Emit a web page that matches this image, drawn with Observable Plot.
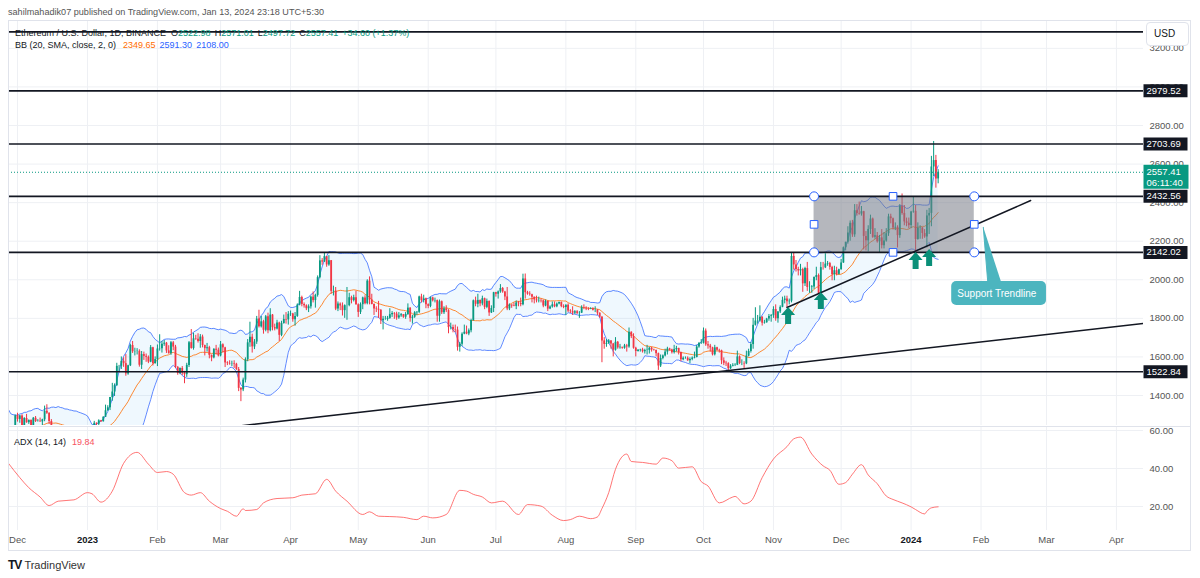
<!DOCTYPE html>
<html><head><meta charset="utf-8">
<script src="https://cdn.jsdelivr.net/npm/d3@7"></script>
<script src="https://cdn.jsdelivr.net/npm/@observablehq/plot@0.6"></script>
<style>
html,body{margin:0;padding:0;background:#fff;}
body{width:1200px;height:578px;position:relative;overflow:hidden;font-family:"Liberation Sans",Arial,sans-serif;}
.abs{position:absolute;white-space:nowrap;line-height:12px;}
.row{display:flex;gap:4px;font-size:9px;}
.g{color:#089981}.k{color:#131722}
</style></head><body>
<div id="main" class="abs" style="left:0;top:20px"></div>
<div id="adx" class="abs" style="left:0;top:426px"></div>
<div class="abs" style="left:8px;top:20px;width:1183px;height:531px;border:1px solid #e0e3eb;box-sizing:border-box;pointer-events:none"></div>
<div class="abs" style="left:8px;top:426px;width:1183px;height:1px;background:#e0e3eb"></div>
<div class="abs" style="left:8px;top:6px;font-size:9.1px;color:#555">sahilmahadik07 published on TradingView.com, Jan 13, 2024 23:18 UTC+5:30</div>
<div class="abs row" style="left:15px;top:27px">
  <span class="k" style="margin-right:1px">Ethereum / U.S. Dollar, 1D, BINANCE</span>
  <span><span class="k">O</span><span class="g">2522.98</span></span>
  <span><span class="k">H</span><span class="g">2571.01</span></span>
  <span><span class="k">L</span><span class="g">2497.72</span></span>
  <span><span class="k">C</span><span class="g">2557.41</span></span>
  <span class="g">+34.60 (+1.37%)</span>
</div>
<div class="abs row" style="left:15px;top:39px">
  <span class="k" style="margin-right:3px">BB (20, SMA, close, 2, 0)</span>
  <span style="color:#ff6d00">2349.65</span>
  <span style="color:#2962ff">2591.30</span>
  <span style="color:#2962ff">2108.00</span>
</div>
<div class="abs row" style="left:14px;top:436px">
  <span class="k" style="margin-right:2px">ADX (14, 14)</span>
  <span style="color:#f7525f">19.84</span>
</div>
<div class="abs" style="left:1146px;top:22px;width:43px;height:24px;box-sizing:border-box;border:1px solid #e0e3eb;border-radius:4px;background:#fff;font-size:10px;color:#131722;padding:5px 0 0 7px">USD</div>
<div class="abs" style="left:8px;top:559px;font-size:11px;color:#333"><span style="font-weight:900;font-size:12px;letter-spacing:-1px;color:#131722">TV</span>&nbsp;TradingView</div>
<script>
// ---------------- data ----------------
const startDate = "2022-11-04";
const firstOpen = 1531;
const closes = [
1645,1627,1572,1568,1334,1100,1299,1287,1256,1219,1241,1253,1215,1201,1212,1218,1141,1108,1135,1183,1203,1199,1206,1195,1169,1217,1295,
1276,1294,1241,1281,1259,1271,1232,1282,1265,1266,1263,1274,1318,1308,1265,1167,1186,1187,1167,1218,1212,1219,1218,1221,1218,1226,1212,1190,1201,1199,1196,
1200,1214,1214,1256,1251,1269,1264,1287,1321,1336,1389,1418,1451,1551,1552,1577,1565,1512,1554,1659,1627,1628,1629,1557,1612,1603,1598,1573,1648,1566,1586,
1641,1642,1666,1671,1631,1618,1673,1651,1546,1514,1540,1516,1508,1556,1674,1644,1694,1692,1680,1703,1659,1643,1648,1608,1595,1640,1635,1605,
1663,1647,1569,1566,1564,1565,1562,1535,1437,1429,1480,1586,1673,1702,1652,1677,1796,1756,1782,1738,1808,1736,1817,1752,1745,1776,1712,1773,1794,1792,1821,
1823,1793,1810,1869,1908,1872,1865,1850,1860,1910,1892,1919,2011,2098,2092,2120,2077,2099,1940,1941,1848,1874,1864,1840,1866,1866,1907,1892,1907,1870,
1831,1871,1906,1876,1993,1895,1872,1849,1847,1842,1788,1795,1795,1800,1819,1825,1822,1802,1813,1819,1806,1820,1853,1800,1806,1829,1831,1911,1892,1901,1871,
1862,1906,1891,1892,1811,1886,1829,1849,1840,1752,1753,1741,1739,1650,1666,1718,1728,1719,1736,1789,1891,1873,1893,1875,1902,1857,1888,1828,1851,1933,
1925,1937,1955,1937,1911,1849,1869,1864,1862,1880,1877,1871,2004,1933,1926,1923,1910,1896,1891,1893,1891,1864,1888,1848,1859,1870,1860,1874,1882,1861,1856,
1868,1838,1835,1827,1834,1826,1827,1855,1853,1849,1848,1850,1842,1842,1827,1806,1683,1665,1670,1683,1667,1635,1676,1647,1650,1645,1657,1652,1728,1705,1645,
1628,1634,1636,1627,1633,1634,1645,1636,1634,1617,1553,1592,1605,1625,1641,1636,1622,1638,1644,1623,1585,1593,1593,1580,1587,1594,1597,1651,1669,1671,
1734,1663,1656,1647,1611,1647,1634,1632,1580,1567,1565,1539,1552,1556,1557,1600,1566,1566,1564,1604,1628,1664,1764,1786,1786,1806,1775,1777,1796,1810,1814,
1846,1798,1833,1857,1893,1900,1886,1889,2121,2077,2053,2046,2053,1979,2058,1960,1960,1963,2012,2022,1930,2063,2062,2081,2084,2064,2027,2047,2028,2052,
2087,2166,2194,2242,2293,2233,2358,2344,2341,2353,2225,2202,2261,2315,2220,2228,2197,2217,2177,2201,2239,2326,2317,2268,2272,2229,2380,2344,2300,2293,2281,
2352,2355,2209,2268,2269,2240,2222,2331,2344,2585,2618,2522.98,2557.41];
const highs = [
1680,1660,1636,1600,1608,1340,1340,1310,1293,1269,1293,1285,1270,1228,1232,1230,1226,1156,1139,1187,1218,1205,1230,1223,1198,1230,1298,
1308,1297,1300,1285,1302,1273,1272,1286,1291,1275,1283,1277,1345,1352,1310,1275,1190,1198,1195,1222,1220,1222,1228,1224,1226,1228,1236,1213,1206,1202,1207,
1203,1220,1219,1266,1258,1274,1271,1290,1350,1347,1390,1463,1460,1567,1556,1600,1595,1612,1557,1666,1680,1645,1643,1637,1628,1625,1615,1605,1659,1650,1600,
1662,1715,1680,1685,1675,1658,1680,1680,1660,1550,1543,1550,1525,1567,1680,1742,1723,1712,1720,1716,1713,1661,1670,1655,1610,1642,1660,1646,
1680,1668,1650,1575,1580,1578,1580,1567,1545,1440,1490,1595,1690,1780,1718,1690,1810,1842,1810,1790,1815,1827,1850,1820,1770,1790,1780,1785,1817,1830,1835,
1838,1826,1830,1875,1940,1915,1880,1870,1870,1915,1937,1925,2020,2125,2110,2140,2120,2125,2100,1967,1960,1885,1880,1880,1870,1960,1930,1915,1920,1940,
1875,1880,1910,1917,2000,2015,1925,1875,1860,1888,1845,1810,1810,1810,1850,1835,1830,1832,1830,1825,1820,1830,1875,1855,1815,1835,1835,1915,1925,1920,1905,
1875,1910,1910,1905,1895,1895,1890,1860,1865,1845,1775,1765,1765,1755,1675,1725,1765,1760,1745,1795,1895,1910,1925,1895,1915,1905,1900,1890,1865,1935,
1935,1942,1975,1960,1940,1960,1875,1870,1880,1890,1887,1905,2029,2030,1940,1938,1925,1910,1915,1910,1900,1895,1895,1890,1865,1885,1885,1880,1885,1885,1870,
1870,1875,1845,1860,1840,1840,1835,1865,1870,1860,1855,1855,1855,1860,1845,1828,1810,1700,1690,1690,1685,1670,1700,1680,1665,1650,1665,1665,1750,1730,1720,
1650,1638,1640,1645,1640,1660,1650,1650,1640,1635,1620,1610,1610,1640,1650,1645,1640,1660,1655,1645,1625,1600,1600,1600,1595,1600,1625,1660,1675,1690,
1750,1745,1680,1665,1650,1660,1650,1640,1635,1595,1577,1570,1560,1565,1565,1630,1605,1585,1575,1630,1640,1675,1800,1855,1815,1865,1808,1790,1800,1820,1820,
1860,1870,1835,1865,1910,1915,1915,1900,2136,2140,2100,2065,2080,2060,2065,2090,1990,1970,2015,2065,2030,2090,2090,2135,2095,2090,2070,2070,2065,2055,
2105,2170,2195,2275,2305,2308,2390,2390,2403,2380,2355,2250,2280,2335,2320,2265,2245,2230,2260,2245,2265,2340,2340,2320,2295,2280,2390,2445,2385,2320,2320,
2355,2430,2385,2295,2280,2270,2260,2360,2370,2640,2717,2645,2571.01];
const lows = [
1525,1617,1568,1549,1207,1073,1085,1208,1240,1205,1165,1232,1196,1186,1193,1207,1130,1073,1081,1124,1180,1174,1196,1193,1150,1162,1215,
1262,1256,1238,1238,1256,1250,1221,1225,1260,1262,1263,1241,1264,1302,1250,1160,1158,1175,1150,1162,1201,1190,1209,1215,1205,1212,1205,1180,1187,1180,1193,
1192,1197,1205,1212,1241,1235,1260,1262,1286,1318,1322,1370,1395,1447,1519,1535,1546,1500,1505,1550,1618,1605,1610,1547,1535,1582,1572,1565,1570,1553,1562,
1550,1630,1620,1655,1618,1614,1608,1632,1540,1505,1508,1504,1461,1494,1545,1640,1635,1686,1672,1645,1647,1605,1625,1590,1575,1590,1610,1600,
1600,1620,1545,1555,1557,1550,1540,1530,1420,1368,1420,1465,1575,1650,1620,1638,1665,1750,1750,1718,1730,1720,1730,1735,1735,1740,1680,1705,1770,1770,1765,
1810,1780,1760,1805,1865,1860,1853,1840,1830,1848,1880,1853,1910,2005,2075,2090,2065,2070,1925,1916,1840,1835,1840,1812,1800,1790,1860,1875,1885,1868,
1805,1820,1845,1870,1870,1870,1870,1815,1830,1800,1768,1740,1790,1785,1795,1805,1795,1790,1795,1805,1800,1795,1815,1780,1770,1800,1815,1825,1880,1880,1850,
1850,1855,1885,1880,1780,1780,1820,1820,1830,1720,1740,1725,1725,1630,1625,1655,1715,1715,1710,1725,1785,1860,1855,1860,1865,1845,1850,1810,1825,1830,
1910,1900,1930,1930,1892,1840,1840,1852,1860,1845,1860,1860,1865,1900,1920,1915,1880,1875,1880,1880,1880,1855,1860,1835,1845,1853,1855,1855,1870,1855,1850,
1815,1830,1825,1815,1820,1820,1800,1825,1845,1840,1840,1845,1838,1830,1815,1800,1570,1640,1650,1665,1640,1600,1630,1640,1640,1640,1640,1625,1645,1695,1640,
1600,1625,1625,1620,1615,1610,1615,1625,1630,1600,1530,1545,1585,1600,1610,1630,1615,1615,1625,1610,1575,1580,1588,1577,1565,1580,1590,1595,1645,1665,
1667,1655,1640,1625,1605,1605,1630,1620,1560,1555,1550,1521,1535,1548,1550,1555,1560,1555,1540,1560,1600,1620,1640,1760,1770,1780,1760,1770,1775,1785,1780,
1800,1785,1775,1825,1855,1875,1855,1870,1880,2050,2040,2020,2020,1935,1965,1940,1930,1930,1950,1995,1925,1928,2050,2058,2070,2050,1995,1995,2020,2025,
2050,2085,2150,2185,2200,2220,2220,2330,2335,2330,2155,2150,2145,2235,2215,2210,2190,2140,2160,2160,2195,2225,2290,2258,2255,2165,2215,2335,2280,2275,2265,
2265,2345,2100,2205,2210,2210,2215,2165,2235,2275,2535,2475,2497.72];

const adxDates = ["2022-11-27","2022-12-02","2022-12-06","2022-12-11","2022-12-15","2022-12-19","2022-12-26","2023-01-01","2023-01-03","2023-01-07","2023-01-12","2023-01-17","2023-01-23","2023-01-28","2023-02-01","2023-02-05","2023-02-08","2023-02-13","2023-02-16","2023-02-20","2023-02-24","2023-03-01","2023-03-04","2023-03-08","2023-03-11","2023-03-12","2023-03-17","2023-03-20","2023-03-26","2023-04-02","2023-04-06","2023-04-12","2023-04-17","2023-04-21","2023-04-26","2023-05-03","2023-05-06","2023-05-10","2023-05-15","2023-05-21","2023-05-27","2023-05-30","2023-06-03","2023-06-09","2023-06-15","2023-06-18","2023-06-21","2023-06-25","2023-06-29","2023-07-04","2023-07-11","2023-07-15","2023-07-21","2023-07-26","2023-07-31","2023-08-03","2023-08-07","2023-08-12","2023-08-15","2023-08-17","2023-08-20","2023-08-23","2023-08-28","2023-08-30","2023-09-04","2023-09-10","2023-09-13","2023-09-17","2023-09-20","2023-09-26","2023-09-30","2023-10-03","2023-10-08","2023-10-14","2023-10-15","2023-10-19","2023-10-22","2023-10-27","2023-11-01","2023-11-07","2023-11-10","2023-11-13","2023-11-18","2023-11-23","2023-11-26","2023-11-30","2023-12-03","2023-12-06","2023-12-10","2023-12-13","2023-12-17","2023-12-21","2023-12-24","2023-12-28","2024-01-01","2024-01-03","2024-01-07","2024-01-08","2024-01-10","2024-01-13"];
const adxValues = [42.7,35.2,29.9,25.0,20.5,22.8,23.5,27.3,26.7,22.3,28.1,42.7,48.5,42.3,37.9,38.4,37.0,27.3,26.0,27.3,22.8,18.9,17.5,14.9,18.8,17.9,18.4,21.9,24.2,24.6,26.0,26.7,34.3,28.1,22.8,15.8,17.2,14.9,14.7,14.3,13.1,14.9,14.0,15.8,28.5,28.1,26.4,25.0,21.9,22.8,15.8,21.0,20.2,15.4,12.6,13.1,14.9,13.6,14.5,18.9,27.3,39.6,47.6,43.7,43.2,42.3,45.5,44.1,40.2,40.9,33.1,30.8,21.9,25.0,25.3,21.4,22.8,35.2,45.0,51.5,55.6,56.5,47.6,41.4,39.1,31.7,32.6,37.0,42.0,36.6,32.0,25.5,23.7,21.9,19.8,18.4,16.1,17.5,19.3,19.84];

const topLine = [3285.6];
const levels = [2979.52, 2703.69, 2432.56, 2142.02, 1522.84];
const lastPrice = 2557.41;
const countdown = "06:11:40";
const priceTicks = [1400,1600,1800,2000,2200,2400,2600,2800,3000,3200];
const adxTicks = [20,40,60];
const monthTickDates = ["2022-12-01","2023-01-01","2023-02-01","2023-03-01","2023-04-01","2023-05-01","2023-06-01","2023-07-01","2023-08-01","2023-09-01","2023-10-01","2023-11-01","2023-12-01","2024-01-01","2024-02-01","2024-03-01","2024-04-01"];
const monthTickLabels = ["Dec","2023","Feb","Mar","Apr","May","Jun","Jul","Aug","Sep","Oct","Nov","Dec","2024","Feb","Mar","Apr"];
const longTrend = [{date:"2023-02-11", price:1207}, {date:"2024-04-13", price:1773}];
const supportTrend = [{date:"2023-11-07", price:1856}, {date:"2024-02-23", price:2411}];
const boxRange = {x1:"2023-11-19", x2:"2024-01-29", xm:"2023-12-24", y1:2142.02, y2:2432.56};
const arrowPts = [{date:"2023-11-07T12:00Z", price:1815}, {date:"2023-11-22T00:00Z", price:1893}, {date:"2024-01-03T00:00Z", price:2100}, {date:"2024-01-09T00:00Z", price:2116}];
const callout = {x1:"2024-01-19", x2:"2024-03-01", y1:1867, y2:1991, tx:"2024-02-08", ty:1929, text:"Support Trendline",
  pointer:[{date:"2024-02-02", price:2272},{date:"2024-02-04", price:1985},{date:"2024-02-10", price:1985}]};
const xDomain = [new Date("2022-11-27"), new Date("2024-04-13")];

// ---------------- build ----------------
const D = s => new Date(s);
const day = 864e5, t0 = +D(startDate);
const candles = closes.map((c,i)=>({date:new Date(t0+i*day), open: i ? closes[i-1] : firstOpen, high: highs[i], low: lows[i], close: c}));
candles.forEach((d,i)=>{ if(i>=19){ const w=closes.slice(i-19,i+1); const m=d3.mean(w); const sd=Math.sqrt(d3.mean(w,v=>(v-m)**2)); d.basis=m; d.upper=m+2*sd; d.lower=m-2*sd; }});
const bb = candles.filter(d=>d.basis!==undefined);
const up = candles.filter(d=>d.close>=d.open), dn = candles.filter(d=>d.close<d.open);
const UP="#089981", DN="#f23645";
const months = monthTickDates.map(D);
const labelOf = new Map(months.map((d,i)=>[+d, monthTickLabels[i]]));
const yearDates = months.filter(d=>/^\d{4}$/.test(labelOf.get(+d)));
const monthOnly = months.filter(d=>!/^\d{4}$/.test(labelOf.get(+d)));
const adxData = adxDates.map((d,i)=>({date:D(d), v:adxValues[i]}));
const lt = longTrend.map(d=>({date:D(d.date), price:d.price}));
const st = supportTrend.map(d=>({date:D(d.date), price:d.price}));
const bx = {x1:D(boxRange.x1), x2:D(boxRange.x2), xm:D(boxRange.xm), y1:boxRange.y1, y2:boxRange.y2, ym:(boxRange.y1+boxRange.y2)/2};
const corners = [[bx.x1,bx.y1],[bx.x1,bx.y2],[bx.x2,bx.y1],[bx.x2,bx.y2]];
const mids = [[bx.x1,bx.ym],[bx.x2,bx.ym],[bx.xm,bx.y1],[bx.xm,bx.y2]];
const arrows = arrowPts.map(d=>({date:D(d.date), price:d.price}));
const ptr = callout.pointer.map(d=>({date:D(d.date), price:d.price}));

const arrowSym = {draw(ctx){ ctx.moveTo(0,-8.5); ctx.lineTo(7,-0.5); ctx.lineTo(3,-0.5); ctx.lineTo(3,8.5); ctx.lineTo(-3,8.5); ctx.lineTo(-3,-0.5); ctx.lineTo(-7,-0.5); ctx.closePath(); }};
const boxSym = (w,t,b)=>({draw(ctx){ ctx.rect(0,t,w,b-t); }});
const font = "Liberation Sans, Arial, sans-serif";
const GRID = "#eef0f4";

const main = Plot.plot({
  width:1200, height:405, marginLeft:8, marginRight:57, marginTop:0, marginBottom:0,
  style:{background:"transparent", fontFamily:font, fontSize:"9.5px", color:"#555"},
  x:{type:"utc", domain:xDomain, axis:null},
  y:{domain:[1244.4, 3344.4], axis:null},
  marks:[
    Plot.gridX(months, {stroke:GRID, strokeOpacity:1}),
    Plot.gridY(priceTicks, {stroke:GRID, strokeOpacity:1}),
    Plot.areaY(bb, {x:"date", y1:"lower", y2:"upper", fill:"#2196f3", fillOpacity:0.07, clip:true}),
    Plot.line(bb, {x:"date", y:"upper", stroke:"#2962ff", strokeOpacity:0.75, strokeWidth:1, clip:true}),
    Plot.line(bb, {x:"date", y:"lower", stroke:"#2962ff", strokeOpacity:0.75, strokeWidth:1, clip:true}),
    Plot.line(bb, {x:"date", y:"basis", stroke:"#ff6d00", strokeOpacity:0.8, strokeWidth:1, clip:true}),
    Plot.ruleX(up, {x:"date", y1:"low", y2:"high", stroke:UP, strokeWidth:1, clip:true}),
    Plot.ruleX(dn, {x:"date", y1:"low", y2:"high", stroke:DN, strokeWidth:1, clip:true}),
    Plot.ruleX(up, {x:"date", y1:"open", y2:"close", stroke:UP, strokeWidth:1.8, clip:true}),
    Plot.ruleX(dn, {x:"date", y1:"open", y2:"close", stroke:DN, strokeWidth:1.8, clip:true}),
    Plot.ruleY([lastPrice], {stroke:"#089981", strokeDasharray:"1,2", strokeWidth:1}),
    Plot.rect([bx], {x1:"x1", x2:"x2", y1:"y1", y2:"y2", fill:"#787b86", fillOpacity:0.55}),
    Plot.ruleY(topLine, {stroke:"#131722", strokeWidth:1.6}),
    Plot.ruleY(levels, {stroke:"#131722", strokeWidth:1.6}),
    Plot.line(lt, {x:"date", y:"price", stroke:"#131722", strokeWidth:1.5, clip:true}),
    Plot.line(st, {x:"date", y:"price", stroke:"#131722", strokeWidth:1.5, clip:true}),
    Plot.dot(corners, {x:d=>d[0], y:d=>d[1], r:4.5, fill:"white", stroke:"#2962ff", strokeWidth:1}),
    Plot.dot(mids, {x:d=>d[0], y:d=>d[1], symbol:"square", r:4.3, fill:"white", stroke:"#2962ff", strokeWidth:1}),
    Plot.dot(arrows, {x:"date", y:"price", symbol:arrowSym, fill:"#0a8f78", stroke:"none"}),
    Plot.line(ptr, {x:"date", y:"price", fill:"#4cb5bf", stroke:"#4cb5bf", strokeWidth:1}),
    Plot.rect([callout], {x1:d=>D(d.x1), x2:d=>D(d.x2), y1:"y1", y2:"y2", fill:"#4cb5bf", rx:5}),
    Plot.text([callout], {x:d=>D(d.tx), y:"ty", text:"text", fill:"white", fontSize:10}),
    Plot.axisY(priceTicks, {anchor:"right", label:null, tickSize:0, tickPadding:6, tickFormat:d=>d.toFixed(2), fill:"#555"}),
    Plot.dot(levels, {y:d=>d, frameAnchor:"right", symbol:boxSym(44,-6.5,6.5), fill:"#131722", stroke:"none"}),
    Plot.text(levels, {y:d=>d, frameAnchor:"right", dx:3, textAnchor:"start", text:d=>d.toFixed(2), fill:"white", fontSize:9.5}),
    Plot.dot([lastPrice], {y:d=>d, frameAnchor:"right", symbol:boxSym(45,-7.5,16.5), fill:"#089981", stroke:"none"}),
    Plot.text([lastPrice], {y:d=>d, frameAnchor:"right", dx:3, textAnchor:"start", text:d=>d.toFixed(2), fill:"white", fontSize:9.5}),
    Plot.text([lastPrice], {y:d=>d, frameAnchor:"right", dx:3, dy:11, textAnchor:"start", text:()=>countdown, fill:"white", fontSize:9.5})
  ]
});
document.getElementById("main").appendChild(main);

const adx = Plot.plot({
  width:1200, height:125, marginLeft:8, marginRight:57, marginTop:1, marginBottom:21,
  style:{background:"transparent", fontFamily:font, fontSize:"9.5px", color:"#555"},
  x:{type:"utc", domain:xDomain, axis:null},
  y:{domain:[7.37, 61.58], axis:null},
  marks:[
    Plot.gridX(months, {stroke:GRID, strokeOpacity:1}),
    Plot.gridY(adxTicks, {stroke:GRID, strokeOpacity:1}),
    Plot.line(adxData, {x:"date", y:"v", stroke:"#ff5252", strokeOpacity:0.8, strokeWidth:1, curve:"monotone-x"}),
    Plot.axisY(adxTicks, {anchor:"right", label:null, tickSize:0, tickPadding:6, tickFormat:d=>d.toFixed(2), fill:"#555"}),
    Plot.axisX(monthOnly, {anchor:"bottom", label:null, tickSize:0, tickPadding:6, tickFormat:d=>labelOf.get(+d), fill:"#555"}),
    Plot.axisX(yearDates, {anchor:"bottom", label:null, tickSize:0, tickPadding:6, tickFormat:d=>labelOf.get(+d), fill:"#131722", fontWeight:"bold"})
  ]
});
document.getElementById("adx").appendChild(adx);
</script>
</body></html>
